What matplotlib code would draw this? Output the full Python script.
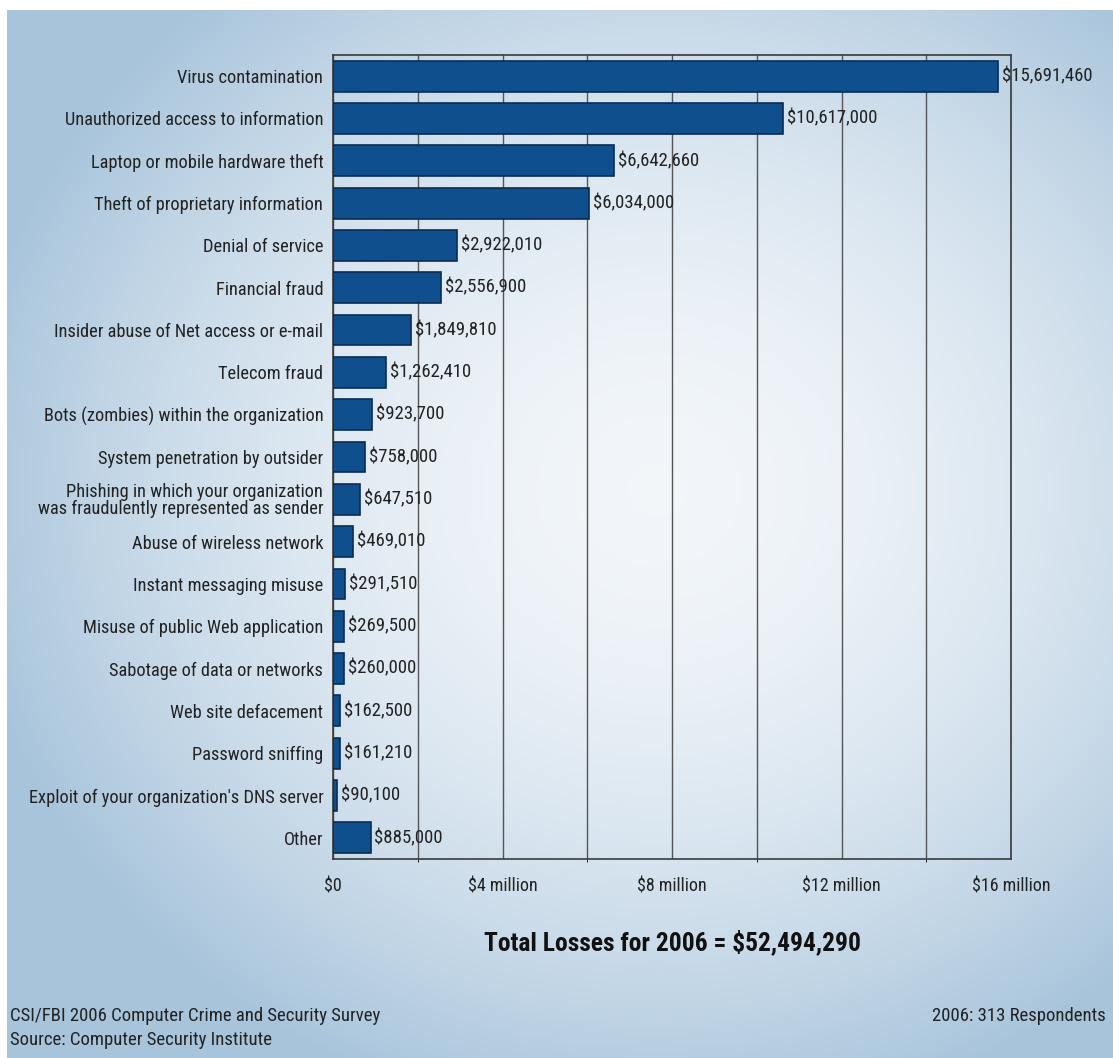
import numpy as np
import matplotlib
matplotlib.use('Agg')
import matplotlib.pyplot as plt
from matplotlib.ticker import FixedLocator, MultipleLocator

categories = [
    'Virus contamination',
    'Unauthorized access to information',
    'Laptop or mobile hardware theft',
    'Theft of proprietary information',
    'Denial of service',
    'Financial fraud',
    'Insider abuse of Net access or e-mail',
    'Telecom fraud',
    'Bots (zombies) within the organization',
    'System penetration by outsider',
    'Phishing in which your organization\nwas fraudulently represented as sender',
    'Abuse of wireless network',
    'Instant messaging misuse',
    'Misuse of public Web application',
    'Sabotage of data or networks',
    'Web site defacement',
    'Password sniffing',
    "Exploit of your organization's DNS server",
    'Other',
]
losses = [15691460, 10617000, 6642660, 6034000, 2922010, 2556900, 1849810,
          1262410, 923700, 758000, 647510, 469010, 291510, 269500, 260000,
          162500, 161210, 90100, 885000]
tick_values = [0, 4e6, 8e6, 12e6, 16e6]
tick_labels = ['$0', '$4 million', '$8 million', '$12 million', '$16 million']

plt.rcParams['font.family'] = ['Roboto Condensed', 'Liberation Sans Narrow', 'Liberation Sans']
txt = '#222222'

W, H = 1113, 1058
fig = plt.figure(figsize=(W / 100, H / 100), dpi=100)
fig.patch.set_facecolor('white')

# soft radial backdrop
bg = fig.add_axes([7 / W, 0, 1 - 7 / W, 1 - 10 / H])
bg.set_axis_off()
yy, xx = np.mgrid[0:H - 10, 0:W - 7]
r = np.sqrt(((xx - 650) / 700.0) ** 2 + ((yy - 480) / 640.0) ** 2)
t = np.clip(r, 0, 1) ** 1.8
inner = np.array([0.95, 0.965, 0.98])
outer = np.array([0.66, 0.77, 0.86])
img = inner[None, None, :] * (1 - t[..., None]) + outer[None, None, :] * t[..., None]
bg.imshow(img, aspect='auto', interpolation='bilinear')

ax = fig.add_axes([333 / W, 1 - 859 / H, (1011 - 333) / W, (859 - 55) / H])
ax.patch.set_alpha(0)
y = np.arange(len(categories))
ax.barh(y, losses, height=0.73, color='#0f4f8e', edgecolor='#0a2d55', linewidth=1.2, zorder=3)
ax.set_ylim(len(categories) - 0.5, -0.5)
ax.set_xlim(0, 16e6)

ax.set_yticks(y)
ax.set_yticklabels(categories, fontsize=13.2, color=txt, linespacing=0.9)
ax.tick_params(axis='y', length=0, pad=7)
ax.xaxis.set_major_locator(FixedLocator(tick_values))
ax.set_xticklabels(tick_labels, fontsize=13, color=txt)
ax.tick_params(axis='x', length=0, pad=13)
ax.xaxis.set_minor_locator(MultipleLocator(2e6))
ax.grid(True, axis='x', which='both', color='#555555', linewidth=1.0, zorder=1)
ax.set_axisbelow(True)
for s in ax.spines.values():
    s.set_color('#3a3a3a')
    s.set_linewidth(1.2)

for yi, v in zip(y, losses):
    ax.text(v + 0.09e6, yi, '${:,}'.format(v), va='center', ha='left',
            fontsize=13.5, color=txt, zorder=4)

fig.text(672 / W, 1 - 942 / H, 'Total Losses for 2006 = $52,494,290', ha='center', va='center',
         fontsize=18.4, fontweight='bold', color='#111111')
fig.text(10 / W, 1 - 1016 / H, 'CSI/FBI 2006 Computer Crime and Security Survey', ha='left',
         va='center', fontsize=13.5, color=txt)
fig.text(10 / W, 1 - 1040 / H, 'Source: Computer Security Institute', ha='left',
         va='center', fontsize=13.5, color=txt)
fig.text(1106 / W, 1 - 1016 / H, '2006: 313 Respondents', ha='right', va='center',
         fontsize=13.5, color=txt)

fig.savefig('out.png', dpi=100, facecolor='white')
